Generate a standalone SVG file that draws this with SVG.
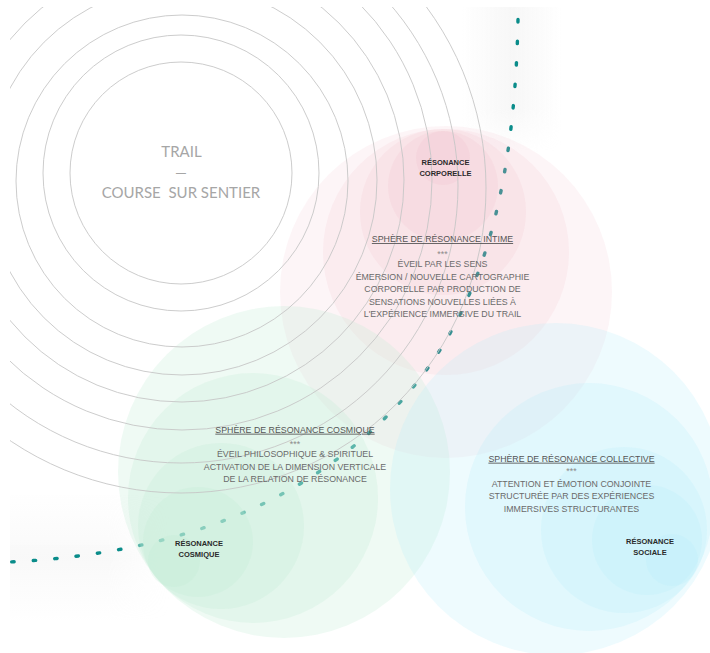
<svg xmlns="http://www.w3.org/2000/svg" width="710" height="653" viewBox="0 0 710 653">
<style>
.ring{fill:none;stroke:#c6c6c6;stroke-width:0.9}
.pk{fill:rgb(238,165,182);fill-opacity:0.105}
.gr{fill:rgb(192,236,212);fill-opacity:0.26}
.bl{fill:rgb(182,237,249);fill-opacity:0.23}
.t{font-family:"Liberation Sans",Arial,sans-serif;font-size:8.8px;text-anchor:middle}
.ttl{fill:#555;text-decoration:underline}
.bd{fill:#6a6a6a}
.st{fill:#8a8a8a}
.lb{font-family:"Liberation Sans",Arial,sans-serif;font-size:7.5px;font-weight:bold;fill:#2a2a2a;text-anchor:middle}
.tr{font-family:Lato,"Liberation Sans",sans-serif;font-weight:400;font-size:15px;fill:#a6a6a6;text-anchor:middle}
.dash{fill:none;stroke:#0a8c8a;stroke-width:3.4;stroke-linecap:round;stroke-dasharray:2.4 19.1}
</style>
<defs>
<clipPath id="frame"><rect x="10" y="7" width="700" height="646"/></clipPath>
<linearGradient id="gTR" x1="0" x2="1" y1="0" y2="0">
<stop offset="0" stop-color="#e8e8e8" stop-opacity="0"/>
<stop offset="0.5" stop-color="#e8e8e8" stop-opacity="0.35"/>
<stop offset="1" stop-color="#e8e8e8" stop-opacity="0"/>
</linearGradient>
<linearGradient id="gBL" x1="0" x2="0" y1="0" y2="1">
<stop offset="0" stop-color="#e6e6e6" stop-opacity="0"/>
<stop offset="0.5" stop-color="#e6e6e6" stop-opacity="0.25"/>
<stop offset="1" stop-color="#e6e6e6" stop-opacity="0"/>
</linearGradient>
<linearGradient id="fadeV" x1="0" x2="0" y1="0" y2="1">
<stop offset="0" stop-color="#fff"/>
<stop offset="0.7" stop-color="#fff"/>
<stop offset="1" stop-color="#000"/>
</linearGradient>
<linearGradient id="fadeH" x1="0" x2="1" y1="0" y2="0">
<stop offset="0" stop-color="#fff"/>
<stop offset="0.6" stop-color="#fff"/>
<stop offset="1" stop-color="#000"/>
</linearGradient>
<mask id="mTR"><rect x="462" y="7" width="100" height="145" fill="url(#fadeV)"/></mask>
<mask id="mBL"><rect x="10" y="495" width="160" height="125" fill="url(#fadeH)"/></mask>
</defs>
<rect width="710" height="653" fill="#fff"/>
<g id="backdrop">
<rect x="462" y="7" width="100" height="145" fill="url(#gTR)" mask="url(#mTR)"/>
<rect x="10" y="495" width="160" height="125" fill="url(#gBL)" mask="url(#mBL)"/>
</g>
<g id="connectors">
<path class="dash" d="M518,19.5 C514,221 469,336 383,420 C303.8,497 190,553 10,562"/>
</g>
<g id="sphere-intime">
<circle class="pk" cx="446" cy="292" r="166"/>
<circle class="pk" cx="446" cy="252" r="123"/>
<circle class="pk" cx="443" cy="212" r="83"/>
<circle class="pk" cx="443" cy="186" r="55"/>
<circle class="pk" cx="443" cy="158" r="27"/>
</g>
<g id="sphere-cosmique">
<circle class="gr" cx="284" cy="472" r="166"/>
<circle class="gr" cx="253" cy="498" r="125"/>
<circle class="gr" cx="221" cy="526" r="83"/>
<circle class="gr" cx="198" cy="542" r="55"/>
<circle class="gr" cx="174" cy="561" r="26"/>
</g>
<g id="sphere-collective">
<circle class="bl" cx="556" cy="489" r="166"/>
<circle class="bl" cx="589" cy="507" r="124"/>
<circle class="bl" cx="624" cy="530" r="83"/>
<circle class="bl" cx="647" cy="540" r="55"/>
<circle class="bl" cx="672" cy="560" r="26"/>
</g>
<g id="trail">
<g clip-path="url(#frame)">
<circle class="ring" cx="181" cy="188" r="305"/>
<circle class="ring" cx="181" cy="186" r="277"/>
<circle class="ring" cx="182" cy="180" r="250"/>
<circle class="ring" cx="182" cy="180" r="222"/>
<circle class="ring" cx="182" cy="180" r="195"/>
<circle class="ring" cx="182" cy="181" r="166"/>
<circle class="ring" cx="181" cy="173" r="138"/>
<circle class="ring" cx="181" cy="173" r="111"/>
</g>
<text class="tr" x="181.5" y="157.3">TRAIL</text>
<text class="tr" x="181" y="177.5">—</text>
<text class="tr" x="181" y="198.3" xml:space="preserve">COURSE  SUR SENTIER</text>
</g>
<g id="label-corporelle">
<text class="lb" x="445.5" y="165">RÉSONANCE</text>
<text class="lb" x="445.5" y="176">CORPORELLE</text>
</g>
<g id="label-cosmique">
<text class="lb" x="199" y="546">RÉSONANCE</text>
<text class="lb" x="199" y="556.7">COSMIQUE</text>
</g>
<g id="label-sociale">
<text class="lb" x="650" y="544">RÉSONANCE</text>
<text class="lb" x="650" y="555">SOCIALE</text>
</g>
<g id="text-intime">
<text class="t ttl" x="442.5" y="242">SPHÈRE DE RÉSONANCE INTIME</text>
<text class="t st" x="442.5" y="256.5">***</text>
<text class="t bd" x="442.5" y="267">ÉVEIL PAR LES SENS</text>
<text class="t bd" x="442.5" y="279.5">ÉMERSION / NOUVELLE CARTOGRAPHIE</text>
<text class="t bd" x="442.5" y="292">CORPORELLE PAR PRODUCTION DE</text>
<text class="t bd" x="442.5" y="304.5">SENSATIONS NOUVELLES LIÉES À</text>
<text class="t bd" x="442.5" y="317">L'EXPÉRIENCE IMMERSIVE DU TRAIL</text>
</g>
<g id="text-cosmique">
<text class="t ttl" x="295" y="432.7">SPHÈRE DE RÉSONANCE COSMIQUE</text>
<text class="t st" x="295" y="446.5">***</text>
<text class="t bd" x="295" y="457">ÉVEIL PHILOSOPHIQUE &amp; SPIRITUEL</text>
<text class="t bd" x="295" y="469.7">ACTIVATION DE LA DIMENSION VERTICALE</text>
<text class="t bd" x="295" y="482">DE LA RELATION DE RÉSONANCE</text>
</g>
<g id="text-collective">
<text class="t ttl" x="571.5" y="461.7">SPHÈRE DE RÉSONANCE COLLECTIVE</text>
<text class="t st" x="571.5" y="474">***</text>
<text class="t bd" x="571.5" y="486.7">ATTENTION ET ÉMOTION CONJOINTE</text>
<text class="t bd" x="571.5" y="499">STRUCTURÉE PAR DES EXPÉRIENCES</text>
<text class="t bd" x="571.5" y="511.7">IMMERSIVES STRUCTURANTES</text>
</g>
</svg>
